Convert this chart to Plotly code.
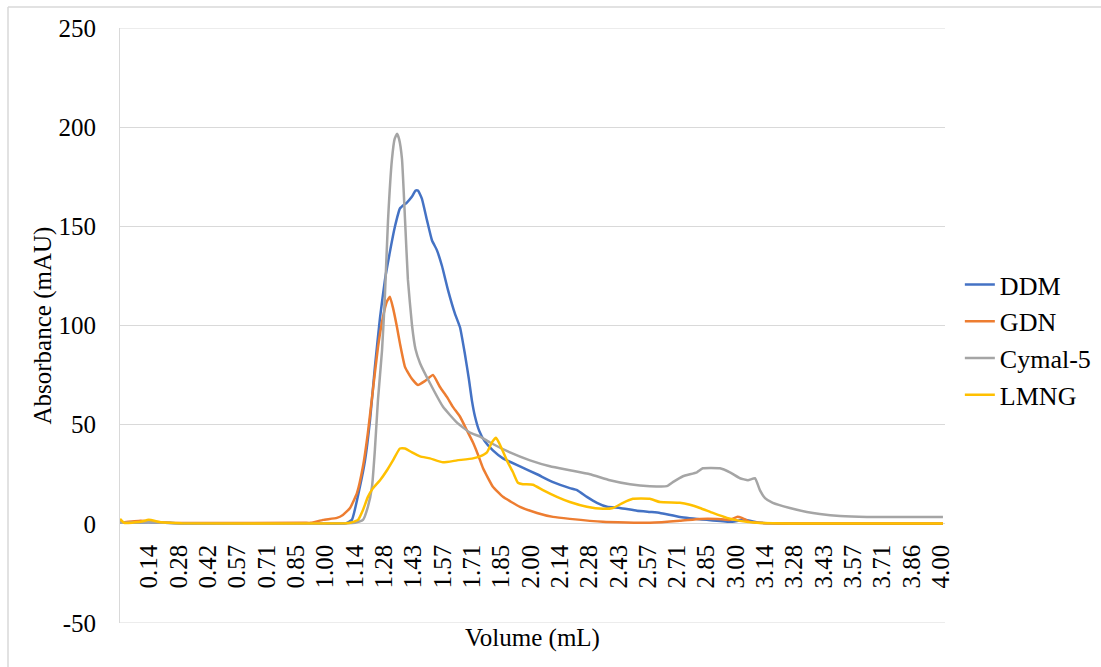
import plotly.graph_objects as go

# ---------------- data ----------------
ddm_x = [0.0, 0.14, 0.30, 1.00, 1.10, 1.130, 1.169, 1.194, 1.218, 1.242, 1.267, 1.291, 1.315, 1.340, 1.364,
         1.398, 1.423, 1.440, 1.452, 1.471, 1.496, 1.520, 1.544, 1.569, 1.598, 1.632, 1.657, 1.680,
         1.700, 1.715, 1.730, 1.750, 1.775, 1.817, 1.866, 1.949, 2.032, 2.110, 2.192, 2.227, 2.275,
         2.324, 2.373, 2.436, 2.519, 2.582, 2.631, 2.728, 2.860, 2.972, 3.045, 3.118, 3.313, 4.010]
ddm_y = [0.5, 0.8, 0.2, 0.1, 0.3, 2, 18.7, 32, 52, 79, 104, 123, 137, 150, 159,
         162, 165, 168, 168, 164, 153, 143, 138, 130, 118, 106, 99, 86,
         73, 62, 54, 47, 42, 37, 33, 29, 25, 21, 18, 17, 13.6,
         10.6, 8.6, 8, 6.6, 6, 5.5, 3.5, 2, 1, 2, 0.5, 0.1, 0.1]

gdn_x = [0.0, 0.10, 0.14, 0.25, 0.90, 0.93, 0.989, 1.057, 1.086, 1.121, 1.155, 1.184, 1.208, 1.233,
         1.257, 1.281, 1.300, 1.315, 1.330, 1.350, 1.364, 1.389, 1.423, 1.452, 1.486, 1.525, 1.559,
         1.593, 1.622, 1.657, 1.691, 1.720, 1.744, 1.769, 1.817, 1.866, 1.949, 2.032, 2.110,
         2.192, 2.353, 2.582, 2.728, 2.826, 2.909, 2.972, 3.006, 3.030, 3.070, 3.167, 4.010]
gdn_y = [0.5, 1.5, 1.2, 0.5, 0.5, 0.5, 2, 3, 4.5, 8, 15.6, 29, 46, 68,
         89, 104, 112, 114.5, 109, 99, 91, 79, 73, 70, 72, 75, 69,
         64, 59, 54, 47, 41, 35, 28, 18.7, 13.6, 8.6, 5.5, 3.5,
         2.5, 1, 0.5, 1.5, 2.5, 2.5, 2, 3.5, 3, 1, 0.3, 0.2]

cymal_x = [0.0, 0.14, 0.30, 1.00, 1.145, 1.184, 1.208, 1.228, 1.242, 1.257, 1.277, 1.290, 1.306, 1.325,
           1.338, 1.350, 1.360, 1.374, 1.389, 1.403, 1.423, 1.440, 1.462, 1.510, 1.574, 1.642,
           1.705, 1.754, 1.803, 1.900, 1.998, 2.095, 2.192, 2.290, 2.387, 2.485, 2.582, 2.665,
           2.694, 2.743, 2.811, 2.840, 2.923, 2.972, 3.021, 3.060, 3.094, 3.118, 3.143, 3.181,
           3.264, 3.347, 3.410, 3.508, 3.640, 3.800, 4.010]
cymal_y = [0.5, 0.8, 0.2, 0.1, 0.5, 2, 8.6, 18.7, 37.3, 62.5, 87.7, 113, 153, 183.6,
           194, 196.7, 194, 184, 153, 123, 100, 88, 81, 71, 59, 51,
           46, 44, 41, 36, 32, 29, 27, 25, 22, 20, 19, 19,
           21, 24, 26, 28, 28, 26, 23, 22, 23, 17, 13, 10.6,
           8, 6, 5, 4, 3.5, 3.5, 3.5]

lmng_x = [0.0, 0.02, 0.10, 0.14, 0.20, 0.30, 1.10, 1.121, 1.160, 1.184, 1.208, 1.233, 1.267, 1.301,
          1.330, 1.364, 1.389, 1.423, 1.462, 1.510, 1.574, 1.642, 1.720, 1.754, 1.788, 1.812,
          1.832, 1.851, 1.885, 1.915, 1.939, 1.963, 2.012, 2.061, 2.129, 2.192, 2.275, 2.353,
          2.402, 2.451, 2.499, 2.582, 2.631, 2.728, 2.777, 2.826, 2.889, 2.957, 3.021, 3.104,
          3.264, 4.010]
lmng_y = [2.5, 0.5, 1, 2, 0.8, 0.3, 0.3, 0.5, 2, 7, 13.6, 18, 22, 27,
          32, 38, 38, 36, 34, 33, 31, 32, 33, 34, 36, 41,
          43.4, 40, 32, 26, 20.7, 20, 19.7, 17, 13.6, 11, 8.6, 7.6,
          8, 10.6, 12.6, 12.6, 11, 10.6, 9.6, 8, 5.5, 3, 1.5, 0.5,
          0.2, 0.2]

x_tick_labels = ["0.14", "0.28", "0.42", "0.57", "0.71", "0.85", "1.00", "1.14", "1.28", "1.43",
                 "1.57", "1.71", "1.85", "2.00", "2.14", "2.28", "2.43", "2.57", "2.71", "2.85",
                 "3.00", "3.14", "3.28", "3.43", "3.57", "3.71", "3.86", "4.00"]
y_tick_vals = [-50, 0, 50, 100, 150, 200, 250]
y_tick_text = ["-50", "0", "50", "100", "150", "200", "250"]

series = [
    ("DDM", ddm_x, ddm_y, "#4472C4"),
    ("GDN", gdn_x, gdn_y, "#ED7D31"),
    ("Cymal-5", cymal_x, cymal_y, "#A5A5A5"),
    ("LMNG", lmng_x, lmng_y, "#FFC000"),
]

FONT = "Liberation Serif"
GRID = "#D9D9D9"

fig = go.Figure()
for name, xs, ys, col in series:
    fig.add_trace(go.Scatter(x=xs, y=ys, name=name, mode="lines",
                             line=dict(color=col, width=2.5, shape="spline", smoothing=0.4)))

x_tick_vals = [(i + 1) / 7 for i in range(len(x_tick_labels))]
X_MAX = 4.02

fig.update_layout(
    width=1101, height=667,
    margin=dict(l=120, r=156, t=28, b=44, autoexpand=False),
    paper_bgcolor="white", plot_bgcolor="white",
    font=dict(family=FONT, size=25, color="#000000"),
    showlegend=True,
    legend=dict(x=1.018, y=0.4756, xanchor="left", yanchor="middle",
                font=dict(family=FONT, size=26, color="#000000"),
                bgcolor="rgba(0,0,0,0)", tracegroupgap=0),
    xaxis=dict(range=[0, X_MAX], tickvals=x_tick_vals, ticktext=x_tick_labels,
               tickangle=-90, showgrid=False, zeroline=False, showline=False,
               anchor="free", position=1/6, ticks="", ticklabelstandoff=15,
               automargin=False,
               tickfont=dict(family=FONT, size=25, color="#000000")),
    yaxis=dict(range=[-50, 250], tickvals=y_tick_vals, ticktext=y_tick_text,
               showgrid=True, gridcolor=GRID, gridwidth=1, zeroline=False,
               showline=True, linecolor=GRID, linewidth=1, ticks="",
               ticklabelstandoff=18, automargin=False,
               tickfont=dict(family=FONT, size=25, color="#000000")),
)

# edge gridlines at 250 and -50
for yv in (250, -50):
    fig.add_shape(type="line", xref="x", yref="y", x0=0, x1=X_MAX, y0=yv, y1=yv,
                  line=dict(color=GRID, width=1), layer="below")

fig.add_annotation(text="Volume (mL)", xref="paper", yref="paper",
                   x=(532 - 120) / 825, y=(623 - 638) / 595, showarrow=False,
                   font=dict(family=FONT, size=25, color="#000000"),
                   xanchor="center", yanchor="middle")
fig.add_annotation(text="Absorbance (mAU)", xref="paper", yref="paper",
                   x=(42 - 120) / 825, y=0.5, showarrow=False, textangle=-90,
                   font=dict(family=FONT, size=25, color="#000000"),
                   xanchor="center", yanchor="middle")

# chart-area border (left and top edges visible)
bx = (8 - 120) / 825
by = (623 - 7) / 595
fig.add_shape(type="line", xref="paper", yref="paper", x0=bx, x1=bx, y0=by, y1=-0.2,
              line=dict(color=GRID, width=1.5))
fig.add_shape(type="line", xref="paper", yref="paper", x0=bx, x1=1.3, y0=by, y1=by,
              line=dict(color=GRID, width=1.5))

fig.write_html("out.html")
